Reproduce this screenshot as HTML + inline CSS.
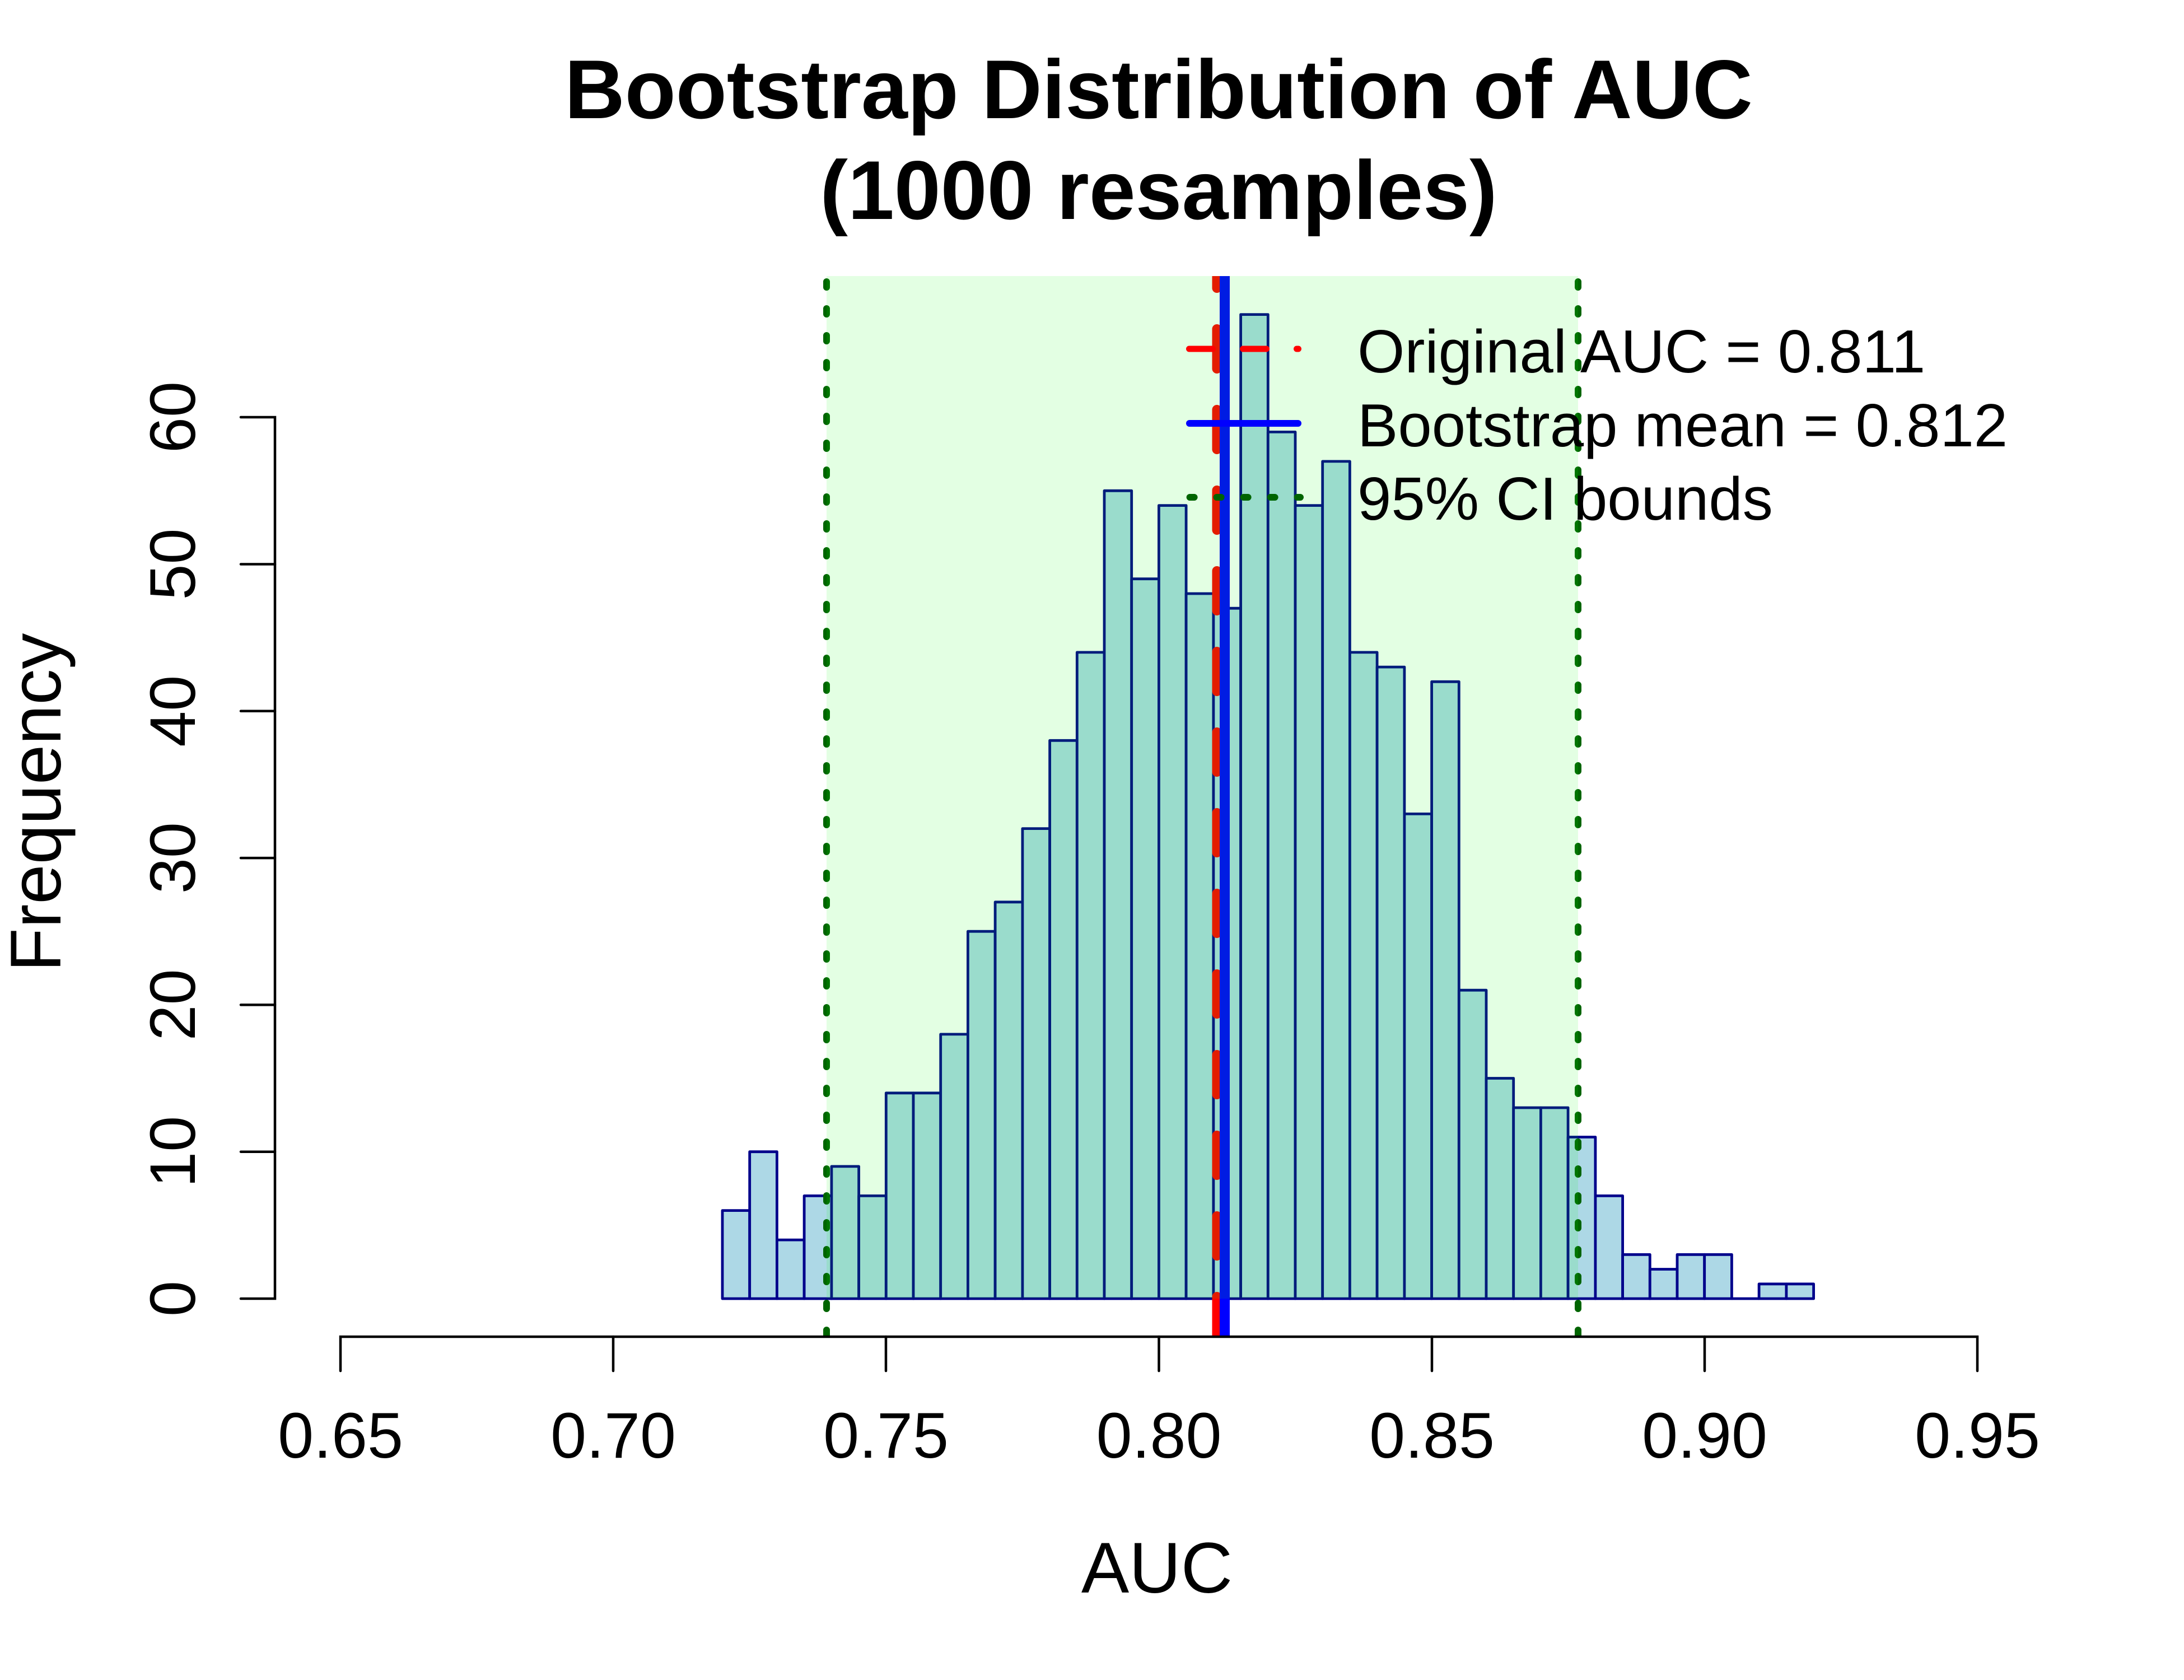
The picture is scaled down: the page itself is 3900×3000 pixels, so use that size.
<!DOCTYPE html>
<html><head><meta charset="utf-8"><style>
html,body{margin:0;padding:0;background:#fff;}
svg{display:block;}
text{font-family:"Liberation Sans",Arial,sans-serif;fill:#000;}
</style></head><body>
<svg width="3900" height="3000" viewBox="0 0 3900 3000" xmlns="http://www.w3.org/2000/svg">
<defs><clipPath id="pr"><rect x="480" y="493" width="3160" height="1896"/></clipPath></defs>
<rect width="3900" height="3000" fill="#fff"/>
<g fill="#ADD8E6" stroke="#00008B" stroke-width="4.8" stroke-linejoin="round">
<rect x="1290.0" y="2161.6" width="48.7" height="157.4"/>
<rect x="1338.7" y="2056.7" width="48.7" height="262.3"/>
<rect x="1387.4" y="2214.1" width="48.7" height="104.9"/>
<rect x="1436.1" y="2135.4" width="48.8" height="183.6"/>
<rect x="1484.9" y="2082.9" width="48.7" height="236.1"/>
<rect x="1533.6" y="2135.4" width="48.7" height="183.6"/>
<rect x="1582.3" y="1951.8" width="48.7" height="367.2"/>
<rect x="1631.0" y="1951.8" width="48.7" height="367.2"/>
<rect x="1679.7" y="1846.9" width="48.7" height="472.1"/>
<rect x="1728.4" y="1663.2" width="48.7" height="655.8"/>
<rect x="1777.1" y="1610.8" width="48.8" height="708.2"/>
<rect x="1825.9" y="1479.6" width="48.7" height="839.4"/>
<rect x="1874.6" y="1322.3" width="48.7" height="996.7"/>
<rect x="1923.3" y="1164.9" width="48.7" height="1154.1"/>
<rect x="1972.0" y="876.3" width="48.7" height="1442.7"/>
<rect x="2020.7" y="1033.7" width="48.7" height="1285.3"/>
<rect x="2069.4" y="902.6" width="48.7" height="1416.4"/>
<rect x="2118.1" y="1060.0" width="48.8" height="1259.0"/>
<rect x="2166.9" y="1086.2" width="48.7" height="1232.8"/>
<rect x="2215.6" y="561.6" width="48.7" height="1757.4"/>
<rect x="2264.3" y="771.4" width="48.7" height="1547.6"/>
<rect x="2313.0" y="902.6" width="48.7" height="1416.4"/>
<rect x="2361.7" y="823.9" width="48.7" height="1495.1"/>
<rect x="2410.4" y="1164.9" width="48.7" height="1154.1"/>
<rect x="2459.1" y="1191.1" width="48.8" height="1127.9"/>
<rect x="2507.9" y="1453.4" width="48.7" height="865.6"/>
<rect x="2556.6" y="1217.3" width="48.7" height="1101.7"/>
<rect x="2605.3" y="1768.2" width="48.7" height="550.8"/>
<rect x="2654.0" y="1925.5" width="48.7" height="393.5"/>
<rect x="2702.7" y="1978.0" width="48.7" height="341.0"/>
<rect x="2751.4" y="1978.0" width="48.7" height="341.0"/>
<rect x="2800.1" y="2030.5" width="48.8" height="288.5"/>
<rect x="2848.9" y="2135.4" width="48.7" height="183.6"/>
<rect x="2897.6" y="2240.3" width="48.7" height="78.7"/>
<rect x="2946.3" y="2266.5" width="48.7" height="52.5"/>
<rect x="2995.0" y="2240.3" width="48.7" height="78.7"/>
<rect x="3043.7" y="2240.3" width="48.7" height="78.7"/>
<line x1="3092.4" y1="2319" x2="3141.1" y2="2319"/>
<rect x="3141.1" y="2292.8" width="48.8" height="26.2"/>
<rect x="3189.9" y="2292.8" width="48.7" height="26.2"/>
</g>
<g clip-path="url(#pr)" fill="none" stroke-linecap="round">
<line x1="2173" y1="443.5" x2="2173" y2="2400" stroke="#FF0000" stroke-width="17" stroke-dasharray="71 73"/>
<line x1="2187" y1="480" x2="2187" y2="2400" stroke="#0000FF" stroke-width="18" stroke-linecap="butt"/>
<line x1="1476" y1="455" x2="1476" y2="2400" stroke="#006400" stroke-width="12" stroke-dasharray="10 38"/>
<line x1="2818" y1="455" x2="2818" y2="2400" stroke="#006400" stroke-width="12" stroke-dasharray="10 38"/>
</g>
<rect x="1476" y="493" width="1342" height="1826" fill="#00FF00" fill-opacity="0.11"/>
<g stroke="#000" stroke-width="4.5" fill="none" stroke-linecap="round">
<path d="M608 2448 V2387 H3531 V2448"/>
<path d="M1095 2387 V2448 M1582 2387 V2448 M2069.5 2387 V2448 M2557 2387 V2448 M3044 2387 V2448"/>
<path d="M430 2319 H491 V745 H430"/>
<path d="M430 2056.7 H491 M430 1794.4 H491 M430 1532.1 H491 M430 1269.8 H491 M430 1007.5 H491"/>
</g>
<g font-size="115" text-anchor="middle">
<text x="608" y="2603">0.65</text>
<text x="1095" y="2603">0.70</text>
<text x="1582" y="2603">0.75</text>
<text x="2069.5" y="2603">0.80</text>
<text x="2557" y="2603">0.85</text>
<text x="3044" y="2603">0.90</text>
<text x="3531" y="2603">0.95</text>
</g>
<g font-size="115" text-anchor="middle">
<text transform="translate(348 2319) rotate(-90)">0</text>
<text transform="translate(348 2056.7) rotate(-90)">10</text>
<text transform="translate(348 1794.4) rotate(-90)">20</text>
<text transform="translate(348 1532.1) rotate(-90)">30</text>
<text transform="translate(348 1269.8) rotate(-90)">40</text>
<text transform="translate(348 1007.5) rotate(-90)">50</text>
<text transform="translate(348 745) rotate(-90)">60</text>
</g>
<text x="2066" y="2844" font-size="128" text-anchor="middle">AUC</text>
<text transform="translate(108 1433) rotate(-90)" font-size="128" text-anchor="middle">Frequency</text>
<g font-size="149" font-weight="bold" text-anchor="middle">
<text x="2069" y="211">Bootstrap Distribution of AUC</text>
<text x="2069" y="391">(1000 resamples)</text>
</g>
<g fill="none" stroke-linecap="round">
<line x1="2123.5" y1="623" x2="2318.5" y2="623" stroke="#FF0000" stroke-width="11" stroke-dasharray="42 54"/>
<line x1="2124" y1="756" x2="2318" y2="756" stroke="#0000FF" stroke-width="12"/>
<line x1="2124.6" y1="888" x2="2322" y2="888" stroke="#006400" stroke-width="12" stroke-dasharray="8 40"/>
</g>
<g font-size="108.5">
<text x="2424" y="665">Original AUC = 0.811</text>
<text x="2424" y="797">Bootstrap mean = 0.812</text>
<text x="2424" y="928">95% CI bounds</text>
</g>
</svg>
</body></html>
